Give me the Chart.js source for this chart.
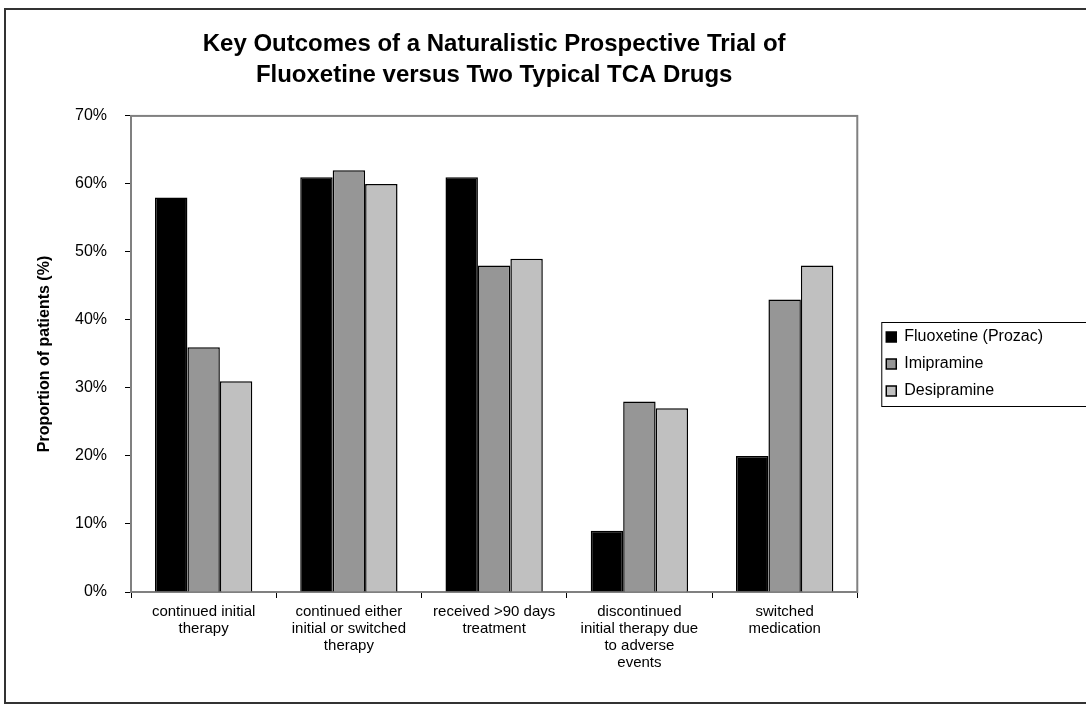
<!DOCTYPE html>
<html>
<head>
<meta charset="utf-8">
<script src="https://cdn.jsdelivr.net/npm/chart.js@4.4.0/dist/chart.umd.min.js"></script>
<style>
  html, body { margin: 0; padding: 0; background: #fff; overflow: hidden; }
  #wrap { position: relative; width: 1086px; height: 709px; }
  #frame { position: absolute; left: 4px; top: 8px; width: 1200px; height: 692px; border: 2px solid #333; pointer-events: none; }
</style>
</head>
<body>
<div id="wrap">
  <canvas id="chart" width="1086" height="709"></canvas>
  <div id="frame"></div>
</div>
<script>
const categories = [
    ["continued initial", "therapy"],
    ["continued either", "initial or switched", "therapy"],
    ["received >90 days", "treatment"],
    ["discontinued", "initial therapy due", "to adverse", "events"],
    ["switched", "medication"]
];
const fluoxetine = [58, 61, 61, 9, 20];
const imipramine = [36, 62, 48, 28, 43];
const desipramine = [31, 60, 49, 27, 48];
const seriesNames = ["Fluoxetine (Prozac)", "Imipramine", "Desipramine"];

const font = "Arial, 'Liberation Sans', sans-serif";

// grey frame round the plot area, and the box round the legend
const frames = {
    id: 'frames',
    afterLayout(chart) {
        // legend sits a bit right of the plot
        chart.legend.left += 18;
        chart.legend.right += 18;
    },
    beforeDatasetsDraw(chart) {
        const a = chart.chartArea;
        const ctx = chart.ctx;
        ctx.save();
        ctx.strokeStyle = '#808080';
        ctx.lineWidth = 2;
        ctx.strokeRect(a.left, a.top, a.right - a.left, a.bottom - a.top);
        ctx.restore();
    },
    afterDraw(chart) {
        const lg = chart.legend;
        const pad = lg.options.labels.padding;
        const colH = lg.columnSizes[0].height;
        const y0 = (lg.top + pad + lg.bottom - colH) / 2;
        const ctx = chart.ctx;
        ctx.save();
        ctx.strokeStyle = '#000';
        ctx.lineWidth = 1;
        ctx.strokeRect(lg.left + pad - 4.5, y0 - 6.5, 300, colH - pad + 14);
        ctx.restore();
    }
};

new Chart(document.getElementById('chart'), {
    type: 'bar',
    data: {
        labels: categories,
        datasets: [
            { label: seriesNames[0], data: fluoxetine, backgroundColor: '#000000', borderColor: '#000', borderWidth: 1.5 },
            { label: seriesNames[1], data: imipramine, backgroundColor: '#969696', borderColor: '#000', borderWidth: 1.5 },
            { label: seriesNames[2], data: desipramine, backgroundColor: '#c0c0c0', borderColor: '#000', borderWidth: 1.5 }
        ]
    },
    options: {
        responsive: false,
        animation: false,
        categoryPercentage: 0.67,
        barPercentage: 1.0,
        layout: { padding: { left: 30, top: 28, right: 51, bottom: 9 } },
        plugins: {
            title: {
                display: true,
                fullSize: false,
                text: ["Key Outcomes of a Naturalistic Prospective Trial of", "Fluoxetine versus Two Typical TCA Drugs"],
                color: '#000',
                font: { family: font, size: 24, weight: 'bold', lineHeight: 1.29 },
                padding: { top: 1, bottom: 25 }
            },
            legend: {
                position: 'right',
                labels: {
                    color: '#000',
                    font: { family: font, size: 16 },
                    boxWidth: 10,
                    boxHeight: 10,
                    padding: 11
                }
            },
            tooltip: { enabled: false }
        },
        scales: {
            x: {
                grid: { drawOnChartArea: false, offset: true, tickLength: 6, color: '#000', lineWidth: 1 },
                border: { color: '#000', width: 1.5 },
                ticks: {
                    color: '#000',
                    font: { family: font, size: 15, lineHeight: 1.14 },
                    maxRotation: 0,
                    autoSkip: false,
                    padding: 5
                },
                afterFit(scale) { scale.height = 108; }
            },
            y: {
                min: 0,
                max: 70,
                grid: { drawOnChartArea: false, tickLength: 6, color: '#000', lineWidth: 1 },
                border: { color: '#404040', width: 2 },
                ticks: {
                    stepSize: 10,
                    color: '#000',
                    font: { family: font, size: 16 },
                    padding: 18,
                    callback: v => v + '%'
                },
                title: {
                    display: true,
                    text: 'Proportion of patients (%)',
                    color: '#000',
                    font: { family: font, size: 16, weight: 'bold', lineHeight: 1.2 },
                    padding: { top: 5, bottom: 0 }
                },
                afterFit(scale) { scale.width = 101; }
            }
        }
    },
    plugins: [frames]
});
</script>
</body>
</html>
